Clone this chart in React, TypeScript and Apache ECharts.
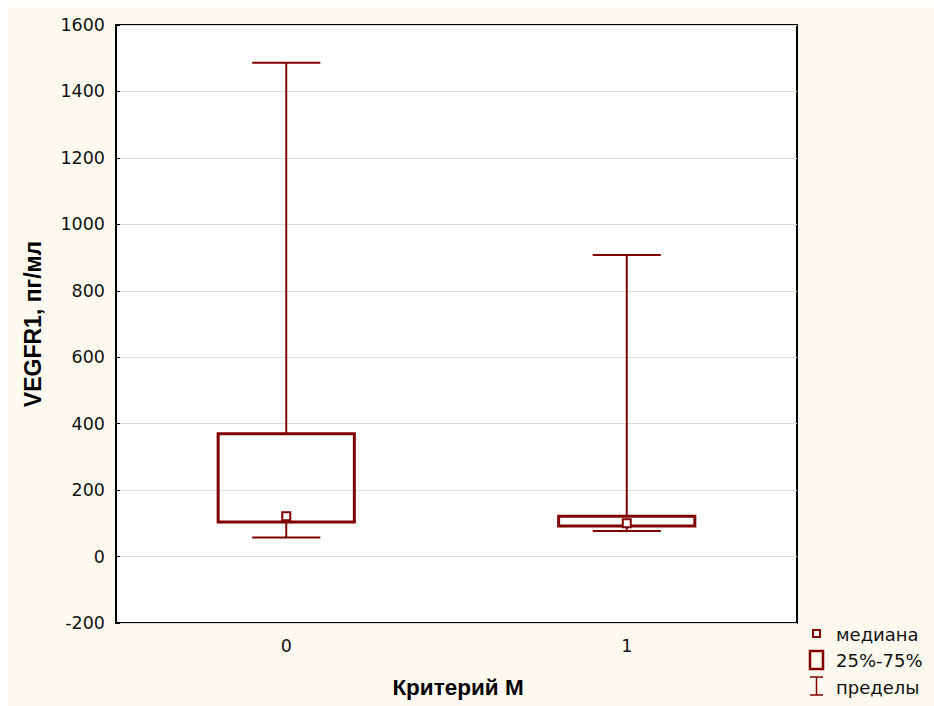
import React, { useEffect, useRef } from "react";
import * as echarts from "echarts";

const categories = ["0", "1"];
const lowerLimits = [57, 77];
const q1Values = [104, 92];
const medians = [121, 100];
const q3Values = [370, 121];
const upperLimits = [1486, 908];

const yTicks = { min: -200, max: 1600, interval: 200 };

const DARK_RED = "#800000";
const FONT = "'DejaVu Sans', 'Liberation Sans', Arial, sans-serif";
const BOLD_FONT = "'Liberation Sans', Arial, sans-serif";

export default function App() {
  const ref = useRef<HTMLDivElement>(null);

  useEffect(() => {
    if (!ref.current) return;
    const chart = echarts.init(ref.current, undefined, { renderer: "svg" });

    const data = categories.map((c, i) => [
      i,
      lowerLimits[i],
      q1Values[i],
      medians[i],
      q3Values[i],
      upperLimits[i],
    ]);

    const renderItem = (params: any, api: any) => {
      const x = api.value(0);
      const lo = api.coord([x, api.value(1)]);
      const q1 = api.coord([x, api.value(2)]);
      const med = api.coord([x, api.value(3)]);
      const q3 = api.coord([x, api.value(4)]);
      const hi = api.coord([x, api.value(5)]);
      const band = api.size([1, 0])[0];
      const boxW = band * 0.4;
      const capW = band * 0.2;
      const cx = lo[0];
      const lineStyle = { stroke: DARK_RED, lineWidth: 2 };
      return {
        type: "group",
        children: [
          { type: "line", shape: { x1: cx, y1: q3[1], x2: cx, y2: hi[1] }, style: lineStyle },
          { type: "line", shape: { x1: cx, y1: q1[1], x2: cx, y2: lo[1] }, style: lineStyle },
          { type: "line", shape: { x1: cx - capW / 2, y1: hi[1], x2: cx + capW / 2, y2: hi[1] }, style: lineStyle },
          { type: "line", shape: { x1: cx - capW / 2, y1: lo[1], x2: cx + capW / 2, y2: lo[1] }, style: lineStyle },
          {
            type: "rect",
            shape: { x: cx - boxW / 2, y: q3[1], width: boxW, height: q1[1] - q3[1] },
            style: { fill: "none", stroke: DARK_RED, lineWidth: 3 },
          },
          {
            type: "rect",
            shape: { x: cx - 4, y: med[1] - 4, width: 8, height: 8 },
            style: { fill: "#ffffff", stroke: DARK_RED, lineWidth: 2 },
          },
        ],
      };
    };

    const lx = 810 - 8;
    const ly = -7;
    chart.setOption({
      animation: false,
      backgroundColor: "#fffaf0",
      textStyle: { fontFamily: FONT },
      grid: {
        left: 108,
        top: 18,
        right: 137,
        bottom: 83,
        show: true,
        backgroundColor: "#ffffff",
        borderColor: "#000000",
        borderWidth: 2,
      },
      xAxis: {
        type: "category",
        data: categories,
        axisLine: { show: false },
        axisTick: { show: false },
        axisLabel: { fontSize: 17.5, color: "#111", margin: 14, fontFamily: FONT },
        splitLine: { show: false },
      },
      yAxis: {
        type: "value",
        min: yTicks.min,
        max: yTicks.max,
        interval: yTicks.interval,
        axisLine: { show: false },
        axisTick: { show: true, inside: true, length: 4, lineStyle: { color: "#000" } },
        axisLabel: {
          fontSize: 17.5,
          color: "#111",
          margin: 11,
          fontFamily: FONT,
          formatter: (v: number) => String(v),
        },
        splitLine: { show: true, lineStyle: { color: "#dcdcdc", width: 1 } },
      },
      graphic: [
        {
          type: "text",
          x: 25,
          y: 317,
          rotation: Math.PI / 2,
          style: {
            text: "VEGFR1, пг/мл",
            font: `bold 23px ${BOLD_FONT}`,
            fill: "#000",
            align: "center",
            verticalAlign: "middle",
          },
        },
        {
          type: "text",
          x: 450,
          y: 680,
          style: {
            text: "Критерий М",
            font: `bold 22.5px ${BOLD_FONT}`,
            fill: "#000",
            align: "center",
            verticalAlign: "middle",
          },
        },
        {
          type: "rect",
          shape: { x: lx + 3, y: ly + 630, width: 7, height: 7 },
          style: { fill: "#fff", stroke: DARK_RED, lineWidth: 2 },
        },
        {
          type: "rect",
          shape: { x: lx, y: ly + 651, width: 13, height: 18 },
          style: { fill: "none", stroke: DARK_RED, lineWidth: 2.5 },
        },
        { type: "line", shape: { x1: lx + 6.5, y1: ly + 677, x2: lx + 6.5, y2: ly + 695 }, style: { stroke: DARK_RED, lineWidth: 1.5 } },
        { type: "line", shape: { x1: lx, y1: ly + 677, x2: lx + 13, y2: ly + 677 }, style: { stroke: DARK_RED, lineWidth: 1.5 } },
        { type: "line", shape: { x1: lx, y1: ly + 695, x2: lx + 13, y2: ly + 695 }, style: { stroke: DARK_RED, lineWidth: 1.5 } },
        {
          type: "text",
          x: 836 - 8,
          y: ly + 634,
          style: { text: "медиана", font: `18px ${FONT}`, fill: "#111", verticalAlign: "middle" },
        },
        {
          type: "text",
          x: 836 - 8,
          y: ly + 660,
          style: { text: "25%-75%", font: `18px ${FONT}`, fill: "#111", verticalAlign: "middle" },
        },
        {
          type: "text",
          x: 836 - 8,
          y: ly + 687,
          style: { text: "пределы", font: `18px ${FONT}`, fill: "#111", verticalAlign: "middle" },
        },
      ],
      series: [
        {
          type: "custom",
          renderItem,
          data,
          encode: { x: 0, y: [1, 2, 3, 4, 5] },
          clip: false,
        },
      ],
    });

    return () => chart.dispose();
  }, []);

  return (
    <div
      ref={ref}
      style={{ position: "fixed", left: 8, top: 7, right: 0, bottom: 0 }}
    />
  );
}
